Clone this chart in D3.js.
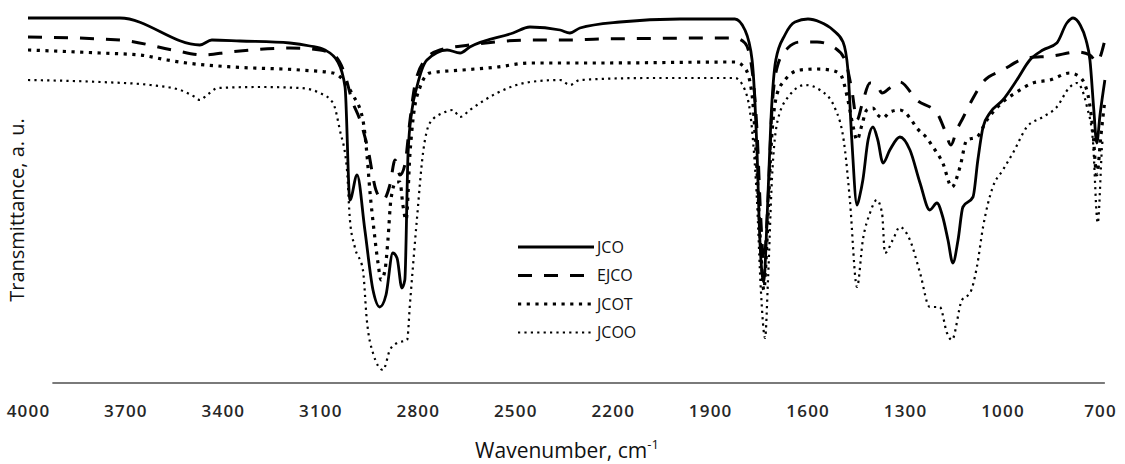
<!DOCTYPE html>
<html>
<head>
<meta charset="utf-8">
<script src="https://cdn.jsdelivr.net/npm/d3@7"></script>
<style>
  body { margin: 0; background: #fff; }
  svg { display: block; font-family: "Open Sans", sans-serif; }
</style>
</head>
<body>
<div id="chart"></div>
<script>
// wavenumber (cm-1), transmittance (a.u.)
const jcoData = [
  [4000,365],[3717,365],[3471,338],[3434,343],[3347,342],[3194,340],[3132,337],[3086,333],
  [3046,321],[3024,296],[3009,183],[2987,208],[2963,153],[2938,93],[2917,76],[2898,88],
  [2877,130],[2864,125],[2849,95],[2840,103],[2830,230],[2818,273],[2803,296],[2772,323],
  [2710,333],[2670,330],[2640,336],[2507,350],[2455,356],[2362,353],[2332,350],[2301,355],
  [2178,361],[1993,364],[1824,364],[1793,353],[1771,323],[1756,233],[1747,143],[1735,101],
  [1725,163],[1713,263],[1698,323],[1670,348],[1639,361],[1599,364],[1562,361],[1522,353],
  [1491,341],[1476,313],[1464,243],[1448,178],[1439,188],[1430,203],[1414,243],[1399,256],
  [1384,243],[1368,220],[1347,233],[1316,246],[1285,233],[1254,200],[1224,173],[1202,180],
  [1184,166],[1168,143],[1153,120],[1137,143],[1122,176],[1091,186],[1076,223],[1060,256],
  [1039,270],[999,283],[956,303],[916,323],[876,333],[833,340],[802,360],[783,365],
  [761,358],[743,343],[731,323],[719,273],[710,240],[700,268],[685,303]
];
const ejcoData = [
  [4000,346],[3717,343],[3554,333],[3461,328],[3378,331],[3194,335],[3101,333],[3055,327],
  [3024,308],[3003,283],[2978,263],[2953,233],[2929,193],[2907,183],[2886,198],[2870,223],
  [2855,208],[2840,218],[2824,263],[2809,298],[2778,323],[2732,333],[2640,338],[2455,343],
  [2332,343],[2239,344],[1824,345],[1793,340],[1771,313],[1756,253],[1744,163],[1735,121],
  [1722,183],[1710,273],[1692,318],[1661,335],[1624,341],[1571,341],[1516,335],[1485,323],
  [1464,293],[1448,263],[1433,278],[1408,300],[1387,298],[1371,290],[1347,295],[1316,301],
  [1264,283],[1202,270],[1178,253],[1159,238],[1141,253],[1122,265],[1094,283],[1060,301],
  [999,313],[925,325],[845,327],[771,331],[731,328],[710,321],[685,343]
];
const jcotData = [
  [4000,333],[3778,330],[3655,328],[3572,323],[3511,320],[3369,316],[3163,313],[3061,310],
  [3030,303],[3000,288],[2969,263],[2957,230],[2947,190],[2935,153],[2923,121],[2913,103],
  [2901,113],[2892,143],[2883,183],[2867,201],[2855,201],[2846,178],[2836,163],[2824,230],
  [2815,263],[2793,296],[2763,310],[2661,313],[2556,316],[2455,320],[2239,320],[1824,321],
  [1793,315],[1771,288],[1756,213],[1744,133],[1735,93],[1725,143],[1713,233],[1695,288],
  [1670,303],[1624,313],[1571,314],[1531,313],[1500,309],[1476,283],[1461,258],[1448,243],
  [1433,258],[1418,273],[1399,275],[1384,268],[1368,265],[1347,271],[1316,273],[1285,265],
  [1264,255],[1233,245],[1214,236],[1184,220],[1156,196],[1131,216],[1110,243],[1079,246],
  [1048,263],[999,281],[956,291],[907,300],[854,303],[793,310],[762,306],[737,288],
  [722,253],[710,208],[697,248],[685,283]
];
const jcooData = [
  [4000,303],[3778,301],[3624,298],[3532,293],[3486,286],[3471,283],[3449,288],[3415,295],
  [3286,296],[3163,295],[3101,290],[3061,280],[3040,253],[3018,213],[3009,163],[2994,136],
  [2969,113],[2957,63],[2938,30],[2907,13],[2886,33],[2864,40],[2833,43],[2824,80],
  [2803,163],[2784,230],[2763,260],[2723,270],[2692,273],[2670,266],[2640,273],[2556,290],
  [2455,301],[2362,303],[2332,298],[2301,303],[2085,305],[1824,305],[1793,293],[1771,253],
  [1756,183],[1744,93],[1731,45],[1722,103],[1710,203],[1692,263],[1655,288],[1608,298],
  [1562,293],[1516,275],[1485,233],[1470,183],[1448,96],[1430,143],[1408,170],[1387,183],
  [1371,170],[1362,130],[1338,143],[1316,156],[1285,143],[1254,110],[1224,76],[1193,76],
  [1171,50],[1156,43],[1125,83],[1100,90],[1079,116],[1060,156],[1030,196],[999,213],
  [968,230],[925,256],[876,266],[833,276],[793,296],[771,300],[740,276],[722,243],
  [707,160],[691,243],[685,243]
];

const seriesNames = ["JCO", "EJCO", "JCOT", "JCOO"];
const xTicks = [4000, 3700, 3400, 3100, 2800, 2500, 2200, 1900, 1600, 1300, 1000, 700];

const styles = {
  JCO:  { width: 2.8, dash: null },
  EJCO: { width: 3, dash: "14,12" },
  JCOT: { width: 3.2, dash: "3.2,5.5" },
  JCOO: { width: 2.2, dash: "2.2,4.2" }
};

const W = 1125, H = 464;
const svg = d3.select("#chart").append("svg").attr("width", W).attr("height", H);

const x = d3.scaleLinear().domain([4000, 700]).range([28, 1100]);
const y = d3.scaleLinear().domain([0, 370]).range([383, 13]);

// axis line
svg.append("line")
  .attr("x1", x(3925)).attr("x2", x(685))
  .attr("y1", y(0)).attr("y2", y(0))
  .attr("stroke", "#7a7a7a").attr("stroke-width", 2);

const xAxis = svg.append("g").attr("transform", `translate(0,${y(0)})`)
  .call(d3.axisBottom(x).tickValues(xTicks).tickSize(0).tickPadding(22).tickFormat(d3.format("d")));
xAxis.select(".domain").remove();
xAxis.selectAll("text")
  .attr("font-family", "Open Sans, sans-serif")
  .attr("font-size", 17).attr("font-weight", 600)
  .attr("letter-spacing", 1.2).attr("fill", "#262626");

// curves
const line = d3.line().x(d => x(d[0])).y(d => y(d[1])).curve(d3.curveMonotoneX);
const allData = [jcoData, ejcoData, jcotData, jcooData];
allData.forEach((data, i) => {
  const s = styles[seriesNames[i]];
  svg.append("path").datum(data)
    .attr("fill", "none").attr("stroke", "#000")
    .attr("stroke-width", s.width)
    .attr("stroke-dasharray", s.dash)
    .attr("stroke-linejoin", "round")
    .attr("d", line);
});

// legend
const legend = svg.append("g");
seriesNames.forEach((name, i) => {
  const ly = 247 + i * 28.5;
  const s = styles[name];
  legend.append("line")
    .attr("x1", 518).attr("x2", 594).attr("y1", ly).attr("y2", ly)
    .attr("stroke", "#000").attr("stroke-width", s.width)
    .attr("stroke-dasharray", s.dash);
  legend.append("text")
    .attr("x", 597).attr("y", ly).attr("dy", "0.36em")
    .attr("font-size", 16).attr("fill", "#111")
    .text(name);
});

// axis titles
const xt = svg.append("text")
  .attr("x", 567).attr("y", 458)
  .attr("text-anchor", "middle")
  .attr("font-size", 21).attr("fill", "#111");
xt.append("tspan").text("Wavenumber, cm");
xt.append("tspan").attr("dy", -9).attr("font-size", 13).text("-1");

svg.append("text")
  .attr("transform", "translate(24,210) rotate(-90)")
  .attr("text-anchor", "middle")
  .attr("font-size", 20).attr("fill", "#111")
  .text("Transmittance, a. u.");
</script>
</body>
</html>
